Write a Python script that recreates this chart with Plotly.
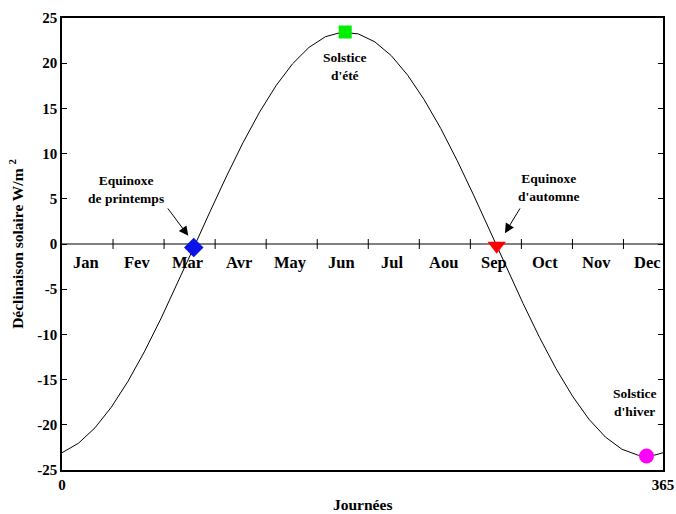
import plotly.graph_objects as go

# Solar declination (degrees) sampled along the year
days = [0, 10, 20, 30, 40, 50, 60, 70, 80, 90, 100, 110, 120, 130, 140, 150,
        160, 170, 180, 190, 200, 210, 220, 230, 240, 250, 260, 270, 280, 290,
        300, 310, 320, 330, 340, 350, 360, 365]
declination = [-23.09, -22.04, -20.34, -18.04, -15.21, -11.93, -8.29, -4.41,
               -0.40, 3.62, 7.53, 11.23, 14.59, 17.52, 19.93, 21.75, 22.93,
               23.43, 23.24, 22.36, 20.83, 18.66, 15.95, 12.79, 9.23, 5.40,
               1.41, -2.62, -6.57, -10.33, -13.78, -16.82, -19.38, -21.35,
               -22.70, -23.37, -23.35, -23.09]

# Month labels and the boundaries marked on the zero line
months = ["Jan", "Fev", "Mar", "Avr", "May", "Jun", "Jul", "Aou", "Sep", "Oct", "Nov", "Dec"]
month_bounds = [31, 62, 93, 124, 155, 186, 217, 248, 279, 310, 341]

# Key events: (day, declination)
spring_eq = (80, -0.40)
summer_sol = (172, 23.45)
autumn_eq = (264, -0.20)
winter_sol = (355, -23.45)

y_ticks = [-25, -20, -15, -10, -5, 0, 5, 10, 15, 20, 25]

FONT = "Liberation Serif"

fig = go.Figure()

# zero line
fig.add_trace(go.Scatter(x=[0, 365], y=[0, 0], mode="lines",
                         line=dict(color="black", width=1), hoverinfo="skip"))

# month boundary tick marks on zero line
tx, ty = [], []
for b in month_bounds:
    tx += [b, b, None]
    ty += [-0.55, 0.55, None]
fig.add_trace(go.Scatter(x=tx, y=ty, mode="lines",
                         line=dict(color="black", width=1), hoverinfo="skip"))

# declination curve
fig.add_trace(go.Scatter(x=days, y=declination, mode="lines",
                         line=dict(color="black", width=1)))

# event markers
fig.add_trace(go.Scatter(x=[spring_eq[0]], y=[spring_eq[1]], mode="markers",
                         marker=dict(symbol="diamond", size=15, color="#0a14e6")))
fig.add_trace(go.Scatter(x=[summer_sol[0]], y=[summer_sol[1]], mode="markers",
                         marker=dict(symbol="square", size=13, color="#00ee00")))
fig.add_trace(go.Scatter(x=[autumn_eq[0]], y=[autumn_eq[1]], mode="markers",
                         marker=dict(symbol="triangle-down", size=16, color="#ff0000")))
fig.add_trace(go.Scatter(x=[winter_sol[0]], y=[winter_sol[1]], mode="markers",
                         marker=dict(symbol="circle", size=15, color="#ff00ff")))

ann = []
for i, m in enumerate(months):
    ann.append(dict(x=14.5 + 31 * i, y=-2.1, text=m, showarrow=False,
                    font=dict(family=FONT, size=16.5, color="black", weight="bold")))

lab_font = dict(family=FONT, size=13.5, color="black", weight="bold")
ann += [
    dict(x=39, y=6.0, text="Equinoxe<br>de printemps", showarrow=False, font=lab_font),
    dict(x=296, y=6.3, text="Equinoxe<br>d'automne", showarrow=False, font=lab_font),
    dict(x=172, y=19.6, text="Solstice<br>d'été", showarrow=False, font=lab_font),
    dict(x=348, y=-17.5, text="Solstice<br>d'hiver", showarrow=False, font=lab_font),
    dict(x=76.7, y=0.9, ax=63.6, ay=4.1, axref="x", ayref="y", text="",
         showarrow=True, arrowhead=2, arrowsize=1.9, arrowwidth=1, arrowcolor="black"),
    dict(x=269, y=1.2, ax=278.7, ay=4.1, axref="x", ayref="y", text="",
         showarrow=True, arrowhead=2, arrowsize=1.9, arrowwidth=1, arrowcolor="black"),
    dict(x=0.5, y=-0.076, xref="paper", yref="paper", yanchor="middle",
         text="Journées", showarrow=False,
         font=dict(family=FONT, size=15.5, color="black", weight="bold")),
]

fig.update_layout(
    width=676, height=514,
    margin=dict(l=62, r=13, t=18, b=44, autoexpand=False),
    paper_bgcolor="white", plot_bgcolor="white",
    showlegend=False,
    annotations=ann,
    font=dict(family=FONT, color="black"),
)
fig.update_xaxes(range=[0, 365], tickvals=[0, 365], ticktext=["0", "365"],
                 ticks="", showgrid=False, zeroline=False, automargin=False,
                 showline=True, linecolor="black", linewidth=1.5, mirror=True,
                 tickfont=dict(family=FONT, size=15, color="black", weight="bold"))
fig.update_yaxes(range=[-25, 25], tickvals=y_ticks, ticktext=[str(v) for v in y_ticks],
                 ticks="inside", ticklen=5, tickcolor="black", tickwidth=1,
                 showgrid=False, zeroline=False, automargin=False,
                 showline=True, linecolor="black", linewidth=1.5, mirror="ticks",
                 tickfont=dict(family=FONT, size=15, color="black", weight="bold"),
                 title=dict(text="Déclinaison solaire W/m <sup>2</sup>", standoff=10,
                            font=dict(family=FONT, size=15.5, color="black", weight="bold")))

fig.write_html("out.html")
